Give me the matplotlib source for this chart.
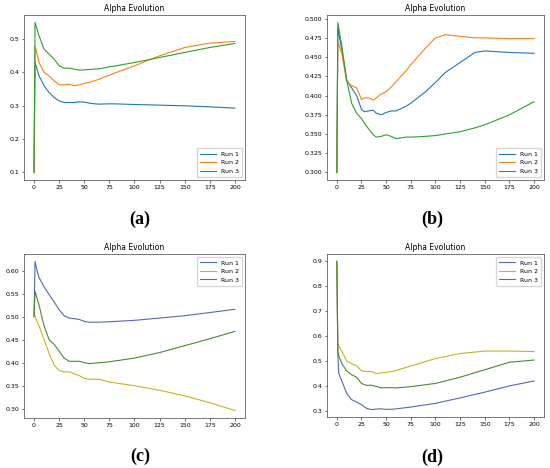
import matplotlib.pyplot as plt

# Panel (a)
steps_a = [0, 1, 5, 10, 15, 20, 25, 30, 35, 40, 45, 50, 55, 60, 65, 75, 80, 100, 125, 150, 175, 200]
a_run1 = [0.1, 0.43, 0.39, 0.36, 0.34, 0.325, 0.315, 0.31, 0.31, 0.31, 0.312, 0.311, 0.308, 0.306,
          0.305, 0.306, 0.306, 0.304, 0.302, 0.300, 0.297, 0.293]
a_run2 = [0.1, 0.48, 0.43, 0.40, 0.39, 0.375, 0.363, 0.363, 0.365, 0.360, 0.363, 0.367, 0.370, 0.375,
          0.380, 0.392, 0.398, 0.420, 0.450, 0.475, 0.488, 0.493]
a_run3 = [0.1, 0.55, 0.51, 0.47, 0.455, 0.44, 0.42, 0.413, 0.413, 0.41, 0.407, 0.408, 0.409, 0.41,
          0.411, 0.417, 0.419, 0.43, 0.445, 0.46, 0.475, 0.487]

# Panel (b)
steps_b = [0, 1, 5, 10, 15, 20, 25, 28, 32, 37, 40, 45, 50, 55, 60, 70, 75, 90, 100, 110, 125, 140,
           150, 175, 200]
b_run1 = [0.3, 0.487, 0.46, 0.42, 0.41, 0.40, 0.382, 0.379, 0.380, 0.381, 0.377, 0.375, 0.378, 0.380,
          0.380, 0.386, 0.390, 0.405, 0.417, 0.430, 0.443, 0.456, 0.458, 0.456, 0.455]
b_run2 = [0.3, 0.47, 0.455, 0.418, 0.413, 0.41, 0.395, 0.397, 0.397, 0.394, 0.397, 0.402, 0.405, 0.411,
          0.418, 0.432, 0.44, 0.462, 0.475, 0.479, 0.477, 0.475, 0.475, 0.474, 0.474]
b_run3 = [0.3, 0.495, 0.465, 0.42, 0.39, 0.377, 0.37, 0.364, 0.357, 0.349, 0.346, 0.347, 0.349, 0.347,
          0.344, 0.346, 0.346, 0.347, 0.348, 0.350, 0.353, 0.358, 0.362, 0.375, 0.392]

# Panel (c)
steps_c = [0, 1, 3, 5, 10, 15, 20, 25, 30, 35, 45, 50, 55, 65, 75, 100, 125, 150, 175, 200]
c_run1 = [0.50, 0.62, 0.60, 0.585, 0.565, 0.548, 0.532, 0.515, 0.502, 0.497, 0.494, 0.490, 0.488,
          0.488, 0.489, 0.492, 0.497, 0.502, 0.509, 0.516]
c_run2 = [0.51, 0.50, 0.49, 0.48, 0.45, 0.42, 0.395, 0.383, 0.38, 0.38, 0.372, 0.366, 0.364, 0.364,
          0.358, 0.35, 0.34, 0.328, 0.313, 0.296]
c_run3 = [0.50, 0.555, 0.54, 0.525, 0.48, 0.45, 0.44, 0.425, 0.41, 0.403, 0.403, 0.400, 0.398, 0.400,
          0.402, 0.41, 0.422, 0.437, 0.452, 0.468]

# Panel (d)
steps_d = [0, 1, 2, 5, 10, 15, 20, 25, 30, 35, 40, 45, 50, 55, 60, 75, 100, 125, 150, 175, 200]
d_run1 = [0.9, 0.53, 0.45, 0.42, 0.37, 0.345, 0.335, 0.325, 0.31, 0.305, 0.307, 0.308, 0.306, 0.306,
          0.308, 0.315, 0.33, 0.352, 0.375, 0.40, 0.42]
d_run2 = [0.9, 0.57, 0.56, 0.54, 0.50, 0.49, 0.48, 0.46, 0.458, 0.458, 0.45, 0.452, 0.455, 0.457,
          0.462, 0.48, 0.51, 0.53, 0.54, 0.54, 0.538]
d_run3 = [0.9, 0.54, 0.52, 0.49, 0.46, 0.445, 0.435, 0.41, 0.402, 0.403, 0.398, 0.392, 0.393, 0.393,
          0.392, 0.397, 0.41, 0.435, 0.465, 0.495, 0.504]

run_labels = ['Run 1', 'Run 2', 'Run 3']
panel_tags = ['(a)', '(b)', '(c)', '(d)']

tab_colors = ['#1f77b4', '#ff7f0e', '#2ca02c']
alt_colors = ['#5468b8', '#c9b31c', '#4a8a2c']

fig = plt.figure(figsize=(5.5, 4.68), dpi=100)

panels = [
    (steps_a, [a_run1, a_run2, a_run3], tab_colors, 'lower right', [0.0436, 0.6154, 0.4018, 0.3526]),
    (steps_b, [b_run1, b_run2, b_run3], tab_colors, 'lower right', [0.5945, 0.6154, 0.3945, 0.3526]),
    (steps_c, [c_run1, c_run2, c_run3], alt_colors, 'upper right', [0.0436, 0.1068, 0.4018, 0.3505]),
    (steps_d, [d_run1, d_run2, d_run3], alt_colors, 'upper right', [0.5945, 0.1090, 0.3945, 0.3483]),
]

tag_pos = [(0.2545, 0.532), (0.786, 0.532), (0.2545, 0.025), (0.786, 0.023)]

for (steps, runs, colors, loc, rect), tag, (tx, ty) in zip(panels, panel_tags, tag_pos):
    ax = fig.add_axes(rect)
    for vals, lab, col in zip(runs, run_labels, colors):
        ax.plot(steps, vals, color=col, lw=0.8, label=lab)
    ax.set_title('Alpha Evolution', fontsize=5.5, pad=3)
    ax.set_xticks([0, 25, 50, 75, 100, 125, 150, 175, 200])
    ax.tick_params(labelsize=4.5, length=1.8, width=0.4, pad=1.5)
    for sp in ax.spines.values():
        sp.set_linewidth(0.5)
        sp.set_color('#444444')
    ax.legend(loc=loc, fontsize=4.5, handlelength=2.5, borderpad=0.5, labelspacing=0.5,
              frameon=True, framealpha=0.8)
    fig.text(tx, ty, tag, ha='center', va='center', fontsize=13, fontweight='bold',
             family='Liberation Serif')

fig.savefig('out.png', dpi=100)
